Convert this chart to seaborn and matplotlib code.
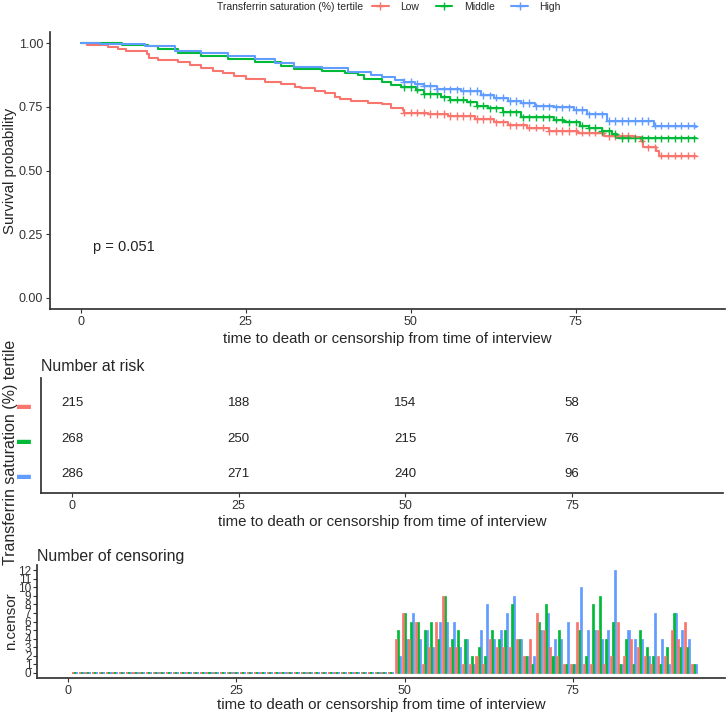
import numpy as np
import pandas as pd
import seaborn as sns
import matplotlib.pyplot as plt
from matplotlib.lines import Line2D
from matplotlib.transforms import Bbox, TransformedBbox

# groups and colours (ggplot default hue)
groups = ["Low", "Middle", "High"]
colors = ["#F8766D", "#00BA38", "#619CFF"]

# Kaplan-Meier step points
low_time = [0, 1.0, 4.1, 5.7, 6.9, 10.0, 10.3, 11.7, 14.8, 16.5, 18.3, 20.0, 21.6, 23.3, 25.1,
            27.9, 30.4, 32.5, 33.4, 35.5, 37.0, 38.5, 39.3, 41.0, 43.5, 45.6, 47.0, 48.8, 49.0,
            52.6, 55.6, 59.7, 62.7, 64.7, 67.7, 71.0, 75.3, 79.3, 83.9, 84.9, 85.2, 87.2, 87.7, 93.3]
low_surv = [1, 0.993, 0.987, 0.978, 0.971, 0.958, 0.941, 0.935, 0.928, 0.915, 0.902, 0.893, 0.883,
            0.872, 0.859, 0.849, 0.840, 0.830, 0.823, 0.813, 0.804, 0.791, 0.780, 0.774, 0.767,
            0.760, 0.747, 0.738, 0.727, 0.722, 0.715, 0.702, 0.689, 0.678, 0.669, 0.656, 0.649,
            0.636, 0.630, 0.617, 0.591, 0.578, 0.559, 0.559]
mid_time = [0, 6.2, 10.2, 11.7, 14.8, 18.3, 22.3, 26.4, 30.4, 32.4, 36.5, 40.0, 42.0, 43.0, 45.6,
            47.0, 48.6, 50.8, 52.0, 54.6, 56.0, 58.6, 60.0, 61.7, 64.0, 66.8, 71.7, 73.2, 75.7,
            77.0, 79.0, 80.5, 81.3, 93.3]
mid_surv = [1, 0.995, 0.99, 0.98, 0.964, 0.951, 0.938, 0.925, 0.912, 0.899, 0.892, 0.883, 0.875,
            0.859, 0.849, 0.836, 0.827, 0.818, 0.801, 0.788, 0.779, 0.768, 0.755, 0.745, 0.729,
            0.709, 0.700, 0.689, 0.676, 0.669, 0.656, 0.643, 0.626, 0.626]
high_time = [0, 3.0, 9.7, 14.3, 18.3, 22.3, 26.4, 29.4, 32.4, 36.5, 40.5, 44.0, 45.6, 47.6, 49.0,
             50.6, 52.0, 54.0, 57.6, 60.6, 62.7, 64.7, 66.7, 68.8, 71.7, 74.8, 76.8, 79.8, 86.9, 93.3]
high_surv = [1, 0.997, 0.99, 0.972, 0.961, 0.95, 0.937, 0.924, 0.909, 0.902, 0.886, 0.875, 0.866,
             0.857, 0.849, 0.840, 0.833, 0.820, 0.813, 0.796, 0.787, 0.774, 0.765, 0.752, 0.748,
             0.738, 0.721, 0.695, 0.676, 0.673]

# number censored per time (times 49..93; zero before that)
censor_time = list(range(1, 94))
low_censor = [0] * 48 + [4, 7, 4, 6, 1, 3, 6, 9, 3, 3, 1, 1, 2, 1, 4, 3, 3, 3, 4, 2, 4, 7, 5, 3, 2,
                         1, 1, 6, 1, 1, 5, 1, 2, 6, 2, 4, 3, 2, 1, 2, 2, 5, 4, 6, 1]
mid_censor = [0] * 48 + [5, 7, 6, 6, 5, 6, 4, 9, 4, 5, 4, 2, 3, 2, 5, 4, 5, 8, 4, 2, 1, 6, 8, 2, 5,
                         1, 1, 5, 2, 8, 9, 4, 6, 1, 4, 1, 5, 3, 2, 1, 3, 7, 3, 3, 1]
high_censor = [0] * 48 + [2, 4, 7, 4, 5, 3, 6, 6, 6, 3, 4, 1, 5, 8, 4, 5, 7, 9, 4, 2, 2, 5, 7, 4, 4,
                          6, 1, 10, 5, 5, 4, 5, 12, 1, 5, 4, 4, 2, 7, 4, 1, 7, 5, 4, 1]

# number at risk table
risk_time = [0, 25, 50, 75]
low_risk = [215, 188, 154, 58]
mid_risk = [268, 250, 215, 76]
high_risk = [286, 271, 240, 96]

p_text = "p = 0.051"
xlab = "time to death or censorship from time of interview"

sns.set_theme(style="ticks")
plt.rcParams['font.family'] = ['Liberation Sans', 'DejaVu Sans']
plt.rcParams['axes.edgecolor'] = '#333333'
plt.rcParams['xtick.color'] = '#333333'
plt.rcParams['ytick.color'] = '#333333'

times = [low_time, mid_time, high_time]
survs = [low_surv, mid_surv, high_surv]
cens = [low_censor, mid_censor, high_censor]
risks = [low_risk, mid_risk, high_risk]

surv_df = pd.concat([pd.DataFrame({"time": t, "surv": s, "group": g})
                     for t, s, g in zip(times, survs, groups)])
cens_df = pd.concat([pd.DataFrame({"time": censor_time, "n": c, "group": g})
                     for c, g in zip(cens, groups)])

# censor marks on curves: survival value at each censor time with n > 0
marks = []
for t, s, c, g in zip(times, survs, cens, groups):
    ct = np.array(censor_time)[np.array(c) > 0]
    idx = np.searchsorted(t, ct, side="right") - 1
    marks.append(pd.DataFrame({"time": ct, "surv": np.array(s)[idx], "group": g}))
mark_df = pd.concat(marks)

fig = plt.figure(figsize=(7.28, 7.17), dpi=100)
W, H = 728, 717
xlim = (-4.65, 97.65)
tick_fs = 9
lab_fs = 10.8

# main survival plot
ax1 = fig.add_axes([50 / W, 1 - 309 / H, 675 / W, 277 / H])
sns.lineplot(data=surv_df, x="time", y="surv", hue="group", hue_order=groups, palette=colors,
             drawstyle="steps-post", estimator=None, legend=False, linewidth=1.5, ax=ax1)
sns.scatterplot(data=mark_df, x="time", y="surv", hue="group", hue_order=groups, palette=colors,
                marker="+", s=28, linewidth=1, legend=False, ax=ax1, zorder=3)
ax1.set_xlim(xlim)
ax1.set_ylim(-0.045, 1.045)
ax1.set_xticks([0, 25, 50, 75])
ax1.set_yticks([0, 0.25, 0.5, 0.75, 1.0])
ax1.set_yticklabels(["0.00", "0.25", "0.50", "0.75", "1.00"])
ax1.tick_params(labelsize=tick_fs, length=3, width=0.8, pad=2)
ax1.set_xlabel(xlab, fontsize=lab_fs, labelpad=3)
ax1.set_ylabel("Survival probability", fontsize=lab_fs, labelpad=1)
ax1.text(1.9, 0.2, p_text, fontsize=10.5, va="center", ha="left", color="#222222")
sns.despine(ax=ax1)

# legend across the top
fig.text(217 / W, 1 - 7 / H, "Transferrin saturation (%) tertile", fontsize=7.5, va="center")
handles = [Line2D([], [], color=c, marker="+", lw=1.5, ms=6) for c in colors]
fig.legend(handles, groups, ncol=3, loc="center left", bbox_to_anchor=(372 / W, 1 - 7 / H),
           frameon=False, fontsize=7.5, handlelength=1.6, columnspacing=1.6, handletextpad=1.1,
           borderaxespad=0, borderpad=0)

# number at risk
ax2 = fig.add_axes([41 / W, 1 - 493 / H, 682 / W, 115 / H])
for i, (r, c) in enumerate(zip(risks, colors)):
    for t, v in zip(risk_time, r):
        ax2.text(t, i + 1, str(v), ha="center", va="center", fontsize=9.5, color="#222222")
ax2.set_xlim(xlim)
ax2.set_ylim(3.54, 0.28)
ax2.set_xticks([0, 25, 50, 75])
ax2.set_yticks([1, 2, 3])
ax2.set_yticklabels(["\u25ac"] * 3, fontsize=10)
for lab, c in zip(ax2.get_yticklabels(), colors):
    lab.set_color(c)
ax2.tick_params(axis="y", length=0, pad=7)
ax2.tick_params(axis="x", labelsize=tick_fs, length=3, width=0.8, pad=2)
ax2.set_xlabel(xlab, fontsize=lab_fs, labelpad=2)
ylab = ax2.set_ylabel("Transferrin saturation (%) tertile", fontsize=11.5)
ax2.yaxis.set_label_coords((18 - 41) / 682, (493 - 452) / 115)
ylab.set_clip_box(TransformedBbox(Bbox([[0, 1 - 575 / H], [1, 1]]), fig.transFigure))
ylab.set_clip_on(True)
ax2.set_title("Number at risk", loc="left", fontsize=11.4, pad=5)
sns.despine(ax=ax2)

# number of censoring
ax3 = fig.add_axes([37 / W, 1 - 678 / H, 688 / W, 113 / H])
sns.histplot(data=cens_df, x="time", weights="n", hue="group", hue_order=groups, palette=colors,
             multiple="dodge", discrete=True, shrink=0.9, alpha=1, legend=False, ax=ax3)
for p in ax3.patches:
    p.set_edgecolor(p.get_facecolor())
    p.set_linewidth(1.4 if p.get_height() == 0 else 0.5)
ax3.set_xlim(xlim)
ax3.set_ylim(-0.6, 12.6)
ax3.set_xticks([0, 25, 50, 75])
ax3.set_yticks(range(0, 13))
ax3.tick_params(axis="y", labelsize=8.5, length=3, width=0.8, pad=1)
ax3.tick_params(axis="x", labelsize=tick_fs, length=3, width=0.8, pad=2)
ax3.set_xlabel(xlab, fontsize=lab_fs, labelpad=1)
ax3.set_ylabel("n.censor", fontsize=lab_fs, labelpad=0)
ax3.set_title("Number of censoring", loc="left", fontsize=11.4, pad=3)
sns.despine(ax=ax3)

fig.savefig("out.png", dpi=100)
